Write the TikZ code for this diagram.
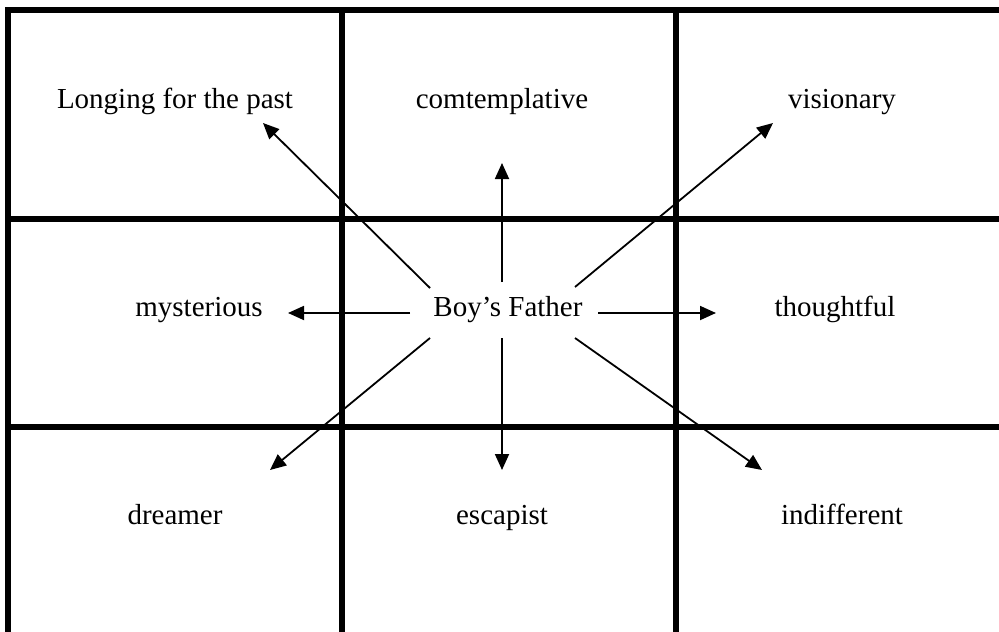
\documentclass[tikz,border=0pt]{standalone}
\usepackage{fontspec}
\setmainfont{Liberation Serif}
\usetikzlibrary{arrows.meta}
\begin{document}
\begin{tikzpicture}[x=1pt,y=-1pt,
  gridline/.style={line width=5.5pt},
  lbl/.style={anchor=base,font=\fontsize{29}{34}\selectfont,inner sep=0pt},
  arr/.style={line width=1.8pt,-{Triangle[length=16pt,width=14pt]}}]
\useasboundingbox (0,0) rectangle (999,632);
\begin{scope}
  \clip (0,0) rectangle (999,632);
  \draw[gridline] (8,10) rectangle (1010,645);
  \draw[gridline] (342,10) -- (342,645);
  \draw[gridline] (676,10) -- (676,645);
  \draw[gridline] (8,219) -- (1010,219);
  \draw[gridline] (8,427) -- (1010,427);
\end{scope}
% labels
\node[lbl] (lp) at (175,108) {Longing for the past};
\node[lbl] (ct) at (502,108) {comtemplative};
\node[lbl] (vi) at (842,108) {visionary};
\node[lbl] (my) at (199,316) {mysterious};
\node[lbl] (bf) at (508,316) {Boy’s Father};
\node[lbl] (th) at (835,316) {thoughtful};
\node[lbl] (dr) at (175,524) {dreamer};
\node[lbl] (es) at (502,524) {escapist};
\node[lbl] (in) at (842,524) {indifferent};
% arrow ends
\coordinate (sUL) at (430,288);
\coordinate (sU) at (502,282);
\coordinate (sUR) at (575,287);
\coordinate (sL) at (410,313);
\coordinate (sR) at (598,313);
\coordinate (sDL) at (430,338);
\coordinate (sD) at (502,338);
\coordinate (sDR) at (575,338);
\coordinate (tUL) at (263,123);
\coordinate (tU) at (502,163);
\coordinate (tUR) at (773,123);
\coordinate (tL) at (288,313);
\coordinate (tR) at (716,313);
\coordinate (tDL) at (270,470);
\coordinate (tD) at (502,470);
\coordinate (tDR) at (762,470);
\draw[arr] (sUL) -- (tUL);
\draw[arr] (sU) -- (tU);
\draw[arr] (sUR) -- (tUR);
\draw[arr] (sL) -- (tL);
\draw[arr] (sR) -- (tR);
\draw[arr] (sDL) -- (tDL);
\draw[arr] (sD) -- (tD);
\draw[arr] (sDR) -- (tDR);
\end{tikzpicture}
\end{document}
